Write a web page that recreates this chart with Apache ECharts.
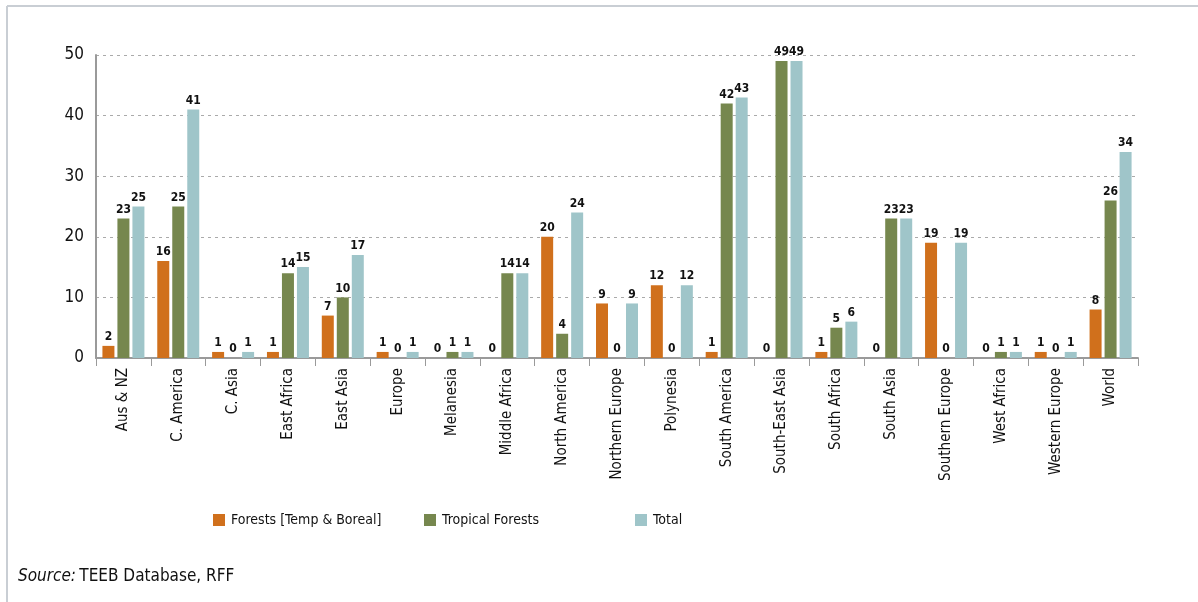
<!DOCTYPE html>
<html>
<head>
<meta charset="utf-8">
<script src="https://cdn.jsdelivr.net/npm/echarts@6/dist/echarts.min.js"></script>
<style>
html,body{margin:0;padding:0;background:#fff;}
#c{width:1198px;height:602px;}
</style>
</head>
<body>
<div id="c"></div>
<script>
const categories = ["Aus & NZ","C. America","C. Asia","East Africa","East Asia","Europe","Melanesia","Middle Africa","North America","Northern Europe","Polynesia","South America","South-East Asia","South Africa","South Asia","Southern Europe","West Africa","Western Europe","World"];
const forestsTemp = [2,16,1,1,7,1,0,0,20,9,12,1,0,1,0,19,0,1,8];
const tropical = [23,25,0,14,10,0,1,14,4,0,0,42,49,5,23,0,1,0,26];
const total = [25,41,1,15,17,1,1,14,24,9,12,43,49,6,23,19,1,1,34];
const seriesNames = ["Forests [Temp & Boreal]","Tropical Forests","Total"];
const yTicks = {min:0,max:50,interval:10};

const FONT = '"Liberation Sans Narrow","DejaVu Sans Condensed",sans-serif';
const colors = ['#d0701c','#76874e','#9fc5c9'];

const chart = echarts.init(document.getElementById('c'));
const mkSeries = (name, data, color) => ({
  name, type:'bar', data, barWidth:12, barGap:'25%',
  itemStyle:{color},
  label:{show:true, position:'top', distance:3, fontFamily:FONT, fontWeight:'bold', fontSize:12, color:'#111'}
});
const mkLegend = (name, left) => ({
  data:[name], left, top:508, itemWidth:12, itemHeight:12, icon:'rect', itemGap:0,
  textStyle:{fontFamily:FONT, fontSize:14, color:'#111', padding:[0,0,0,1]}
});
chart.setOption({
  animation:false,
  color:colors,
  grid:{left:96, right:60, top:55, bottom:244, containLabel:false},
  legend:[mkLegend(seriesNames[0],208), mkLegend(seriesNames[1],419), mkLegend(seriesNames[2],630)],
  xAxis:{
    type:'category', data:categories,
    axisLine:{lineStyle:{color:'#9a9a9a', width:2}},
    axisTick:{show:true, length:8, lineStyle:{color:'#9a9a9a', width:1}},
    axisLabel:{rotate:90, margin:10, fontFamily:FONT, fontSize:15, color:'#111', interval:0}
  },
  yAxis:{
    type:'value', min:yTicks.min, max:yTicks.max, interval:yTicks.interval,
    axisLine:{show:true, lineStyle:{color:'#9a9a9a', width:2}},
    axisTick:{show:false},
    axisLabel:{margin:12, fontFamily:FONT, fontSize:17, color:'#111'},
    splitLine:{lineStyle:{color:'#aaaaaa', type:[3,4], width:1}}
  },
  series:[
    mkSeries(seriesNames[0], forestsTemp, colors[0]),
    mkSeries(seriesNames[1], tropical, colors[1]),
    mkSeries(seriesNames[2], total, colors[2])
  ],
  graphic:[
    {type:'line', shape:{x1:7,y1:6,x2:1198,y2:6}, style:{stroke:'#c9ced4', lineWidth:2}},
    {type:'line', shape:{x1:7,y1:6,x2:7,y2:602}, style:{stroke:'#c9ced4', lineWidth:2}},
    {type:'text', left:18, top:568, style:{
      text:'{i|Source:} {r|TEEB Database, RFF}',
      rich:{
        i:{fontFamily:FONT, fontStyle:'italic', fontSize:17, fill:'#111'},
        r:{fontFamily:FONT, fontSize:17, fill:'#111'}
      }
    }}
  ]
});
</script>
</body>
</html>
